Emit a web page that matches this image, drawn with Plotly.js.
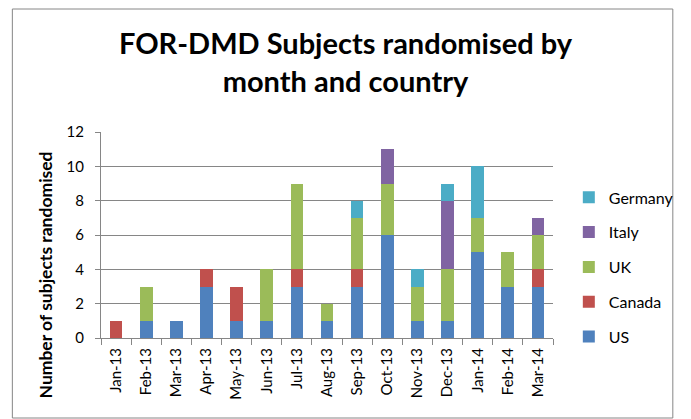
<!DOCTYPE html>
<html>
<head>
<meta charset="utf-8">
<script src="https://cdn.plot.ly/plotly-3.0.1.min.js"></script>
<style>html,body{margin:0;padding:0;background:#fff;}#chart{width:691px;height:419px;}</style>
</head>
<body>
<div id="chart"></div>
<script>
const months = ["Jan-13","Feb-13","Mar-13","Apr-13","May-13","Jun-13","Jul-13","Aug-13","Sep-13","Oct-13","Nov-13","Dec-13","Jan-14","Feb-14","Mar-14"];
const us      = [0,1,1,3,1,1,3,1,3,6,1,1,5,3,3];
const canada  = [1,0,0,1,2,0,1,0,1,0,0,0,0,0,1];
const uk      = [0,2,0,0,0,3,5,1,3,3,2,3,2,2,2];
const italy   = [0,0,0,0,0,0,0,0,0,2,0,4,0,0,1];
const germany = [0,0,0,0,0,0,0,0,1,0,1,1,3,0,0];
const yTicks = [0,2,4,6,8,10,12];

const series = [
  {name:"US", y:us, color:"#4F81BD"},
  {name:"Canada", y:canada, color:"#C0504D"},
  {name:"UK", y:uk, color:"#9BBB59"},
  {name:"Italy", y:italy, color:"#8064A2"},
  {name:"Germany", y:germany, color:"#4BACC6"}
];

const traces = series.map((s, i) => ({
  type:"bar", name:s.name, x:months, y:s.y, legendgroup:s.name,
  legendrank: series.length - i,
  marker:{color:s.color, line:{width:0}}, hoverinfo:"x+y+name"
}));

const font = "Lato, 'Open Sans', sans-serif";
const layout = {
  width:691, height:419,
  margin:{l:101, r:126, t:132, b:81},
  paper_bgcolor:"#fff", plot_bgcolor:"#fff",
  barmode:"stack", bargap:0.58,
  font:{family:font, color:"#000"},
  title:{text:"FOR-DMD Subjects randomised by<br>month and country",
    font:{family:font, size:29, weight:"bold", color:"#000"},
    x:0.5, xref:"container", xanchor:"center",
    y:1 - 54/419, yref:"container", yanchor:"top"},
  xaxis:{type:"category", tickangle:-90, tickfont:{size:15, family:font},
    ticklabelstandoff:3,
    showline:true, linecolor:"#868686", linewidth:1,
    ticks:"outside", tickson:"boundaries", ticklen:6, tickcolor:"#868686",
    showgrid:false, zeroline:false},
  yaxis:{range:[0,12], tickvals:yTicks, ticktext:yTicks.map(String),
    tickfont:{size:15, family:font}, ticklabelstandoff:8,
    showline:true, linecolor:"#868686", linewidth:1,
    ticks:"outside", ticklen:5, tickcolor:"#868686",
    showgrid:true, gridcolor:"#868686", gridwidth:1, zeroline:false},
  legend:{x:1.035, xanchor:"left", y:0.765, yanchor:"top",
    traceorder:"grouped", tracegroupgap:11,
    font:{size:16, family:font}, bgcolor:"rgba(0,0,0,0)"},
  annotations:[{text:"Number of subjects randomised", textangle:-90,
    xref:"paper", yref:"paper", x:-0.1207, y:0.306, xanchor:"center", yanchor:"middle",
    showarrow:false, font:{size:17.5, family:font, weight:"bold", color:"#000"}}],
  shapes:[{type:"rect", xref:"paper", yref:"paper",
    x0:(10-101)/464, x1:(688-101)/464, y0:(338-418)/206, y1:(338-9)/206,
    line:{color:"#868686", width:1}, fillcolor:"rgba(0,0,0,0)", layer:"below"}]
};

Plotly.newPlot("chart", traces, layout, {displayModeBar:false, staticPlot:true});
</script>
</body>
</html>
